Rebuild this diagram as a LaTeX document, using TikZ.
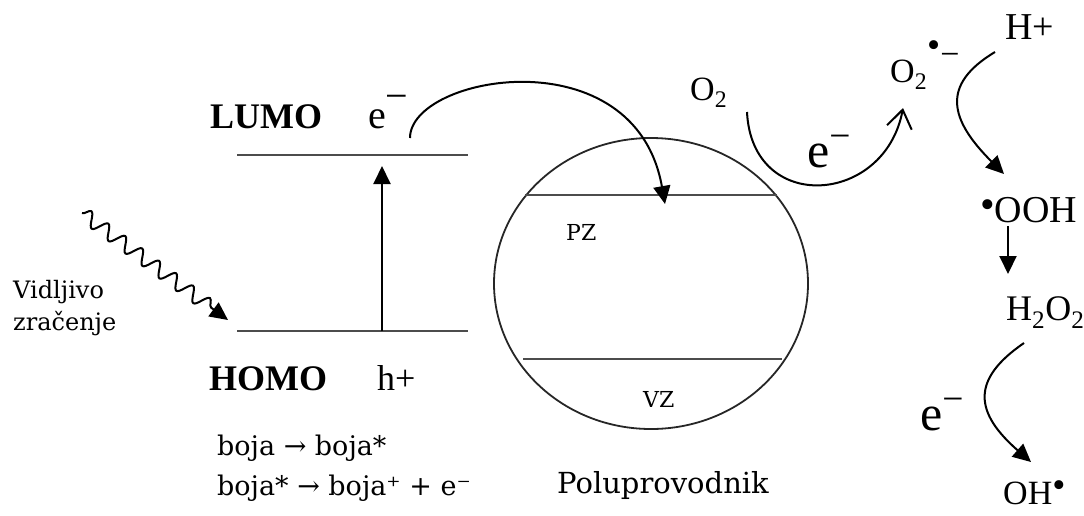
\documentclass[tikz,border=0pt]{standalone}
\usepackage{fontspec}
\usepackage{graphicx}
\setmainfont{Liberation Serif}
\newfontfamily\camfont{DejaVu Serif}
\usetikzlibrary{positioning, arrows.meta, shapes.geometric, decorations.pathmorphing}

\newcommand{\fsz}[1]{\fontsize{#1}{#1}\selectfont}
\newcommand{\supm}[2]{\raisebox{#2}{\scalebox{#1}{−}}}
\newcommand{\rdot}[1]{\raisebox{#1}{\scalebox{1.1}{•}}}

\begin{document}
\begin{tikzpicture}[
    x=1pt, y=-1pt,
    lbl/.style={inner sep=0pt, anchor=base west, font=\fsz{#1}},
    clbl/.style={inner sep=0pt, anchor=base west, font=\camfont\fsz{#1}},
    level/.style={line width=2.2pt, draw=black!70},
    arr/.style={-{Triangle[length=18pt, width=17pt]}, line width=2pt},
    barb/.style={-{Straight Barb[length=18pt, width=25pt]}, line width=2pt},
]
\useasboundingbox (0,0) rectangle (1084,515);

% dye levels
\node[lbl=36] (lumo) at (210,128) {\textbf{LUMO}};
\node[lbl=40] (elumo) at (368,128) {e\supm{1.0}{0.47em}};
\node[lbl=36] (homo) at (209,390) {\textbf{HOMO}};
\node[lbl=36] (hole) at (377,390) {h+};

\coordinate (lumoL) at (237,155);
\coordinate (lumoR) at (468,155);
\coordinate (homoL) at (237,331);
\coordinate (homoR) at (468,331);
\draw[level] (lumoL) -- (lumoR);
\draw[level] (homoL) -- (homoR);

\coordinate (excS) at (382,331);
\coordinate (excE) at (382,166);
\draw[arr] (excS) -- (excE);

% light
\node[clbl=24] (vid) at (13,298) {Vidljivo};
\node[clbl=24] (zrac) at (13,330) {zračenje};
\coordinate (waveS) at (82,213);
\coordinate (waveE) at (228,320);
\draw[arr, decorate, decoration={snake, segment length=21pt, amplitude=7pt, post length=16pt}] (waveS) -- (waveE);

\node[clbl=27] (boja1) at (217,455) {boja → boja*};
\node[clbl=27] (boja2) at (217,495) {boja* → boja⁺ + e⁻};

% semiconductor
\node[draw, ellipse, line width=1.8pt, draw=black!85, minimum width=314pt, minimum height=291pt, inner sep=0pt] (semi) at (651,283.5) {};
\coordinate (pzL) at (525,195);
\coordinate (pzR) at (777,195);
\coordinate (vzL) at (523,359);
\coordinate (vzR) at (782,359);
\draw[level] (pzL) -- (pzR);
\draw[level] (vzL) -- (vzR);
\node[clbl=22] (pz) at (566,240) {PZ};
\node[clbl=22] (vz) at (643,407) {VZ};
\node[clbl=29] (polu) at (557,493) {Poluprovodnik};

\coordinate (injS) at (410,138);
\coordinate (injE) at (665,204);
\draw[arr] (injS) .. controls (410,75) and (635,35) .. (injE);

% oxygen chain
\node[lbl=34] (o2) at (690,100) {O\textsubscript{2}};
\node[lbl=50] (etr) at (807,167) {e\supm{0.75}{0.38em}};
\node[lbl=34] (superox) at (890,82) {O\textsubscript{2}\rdot{0.72em}\supm{1.0}{0.5em}};
\node[lbl=38] (hplus) at (1005,39) {H+};
\node[lbl=38] (ooh) at (980,222) {\rdot{0.1em}OOH};
\node[lbl=36] (hoh) at (1006,320) {H\textsubscript{2}O\textsubscript{2}};
\node[lbl=50] (eoh) at (920,430) {e\supm{0.75}{0.38em}};
\node[lbl=34] (oh) at (1003,504) {OH\rdot{0.2em}};

\coordinate (o2S) at (747,112);
\coordinate (o2E) at (903,108);
\draw[barb] (o2S) .. controls (752,215) and (885,205) .. (o2E);

\coordinate (hpS) at (995,52);
\coordinate (hpE) at (1004,174);
\draw[arr] (hpS) .. controls (940,85) and (950,120) .. (hpE);

\coordinate (oohS) at (1008,226);
\coordinate (oohE) at (1008,274);
\draw[arr] (oohS) -- (oohE);

\coordinate (hohS) at (1024,343);
\coordinate (hohE) at (1031,462);
\draw[arr] (hohS) .. controls (970,380) and (975,413) .. (hohE);

\end{tikzpicture}
\end{document}
